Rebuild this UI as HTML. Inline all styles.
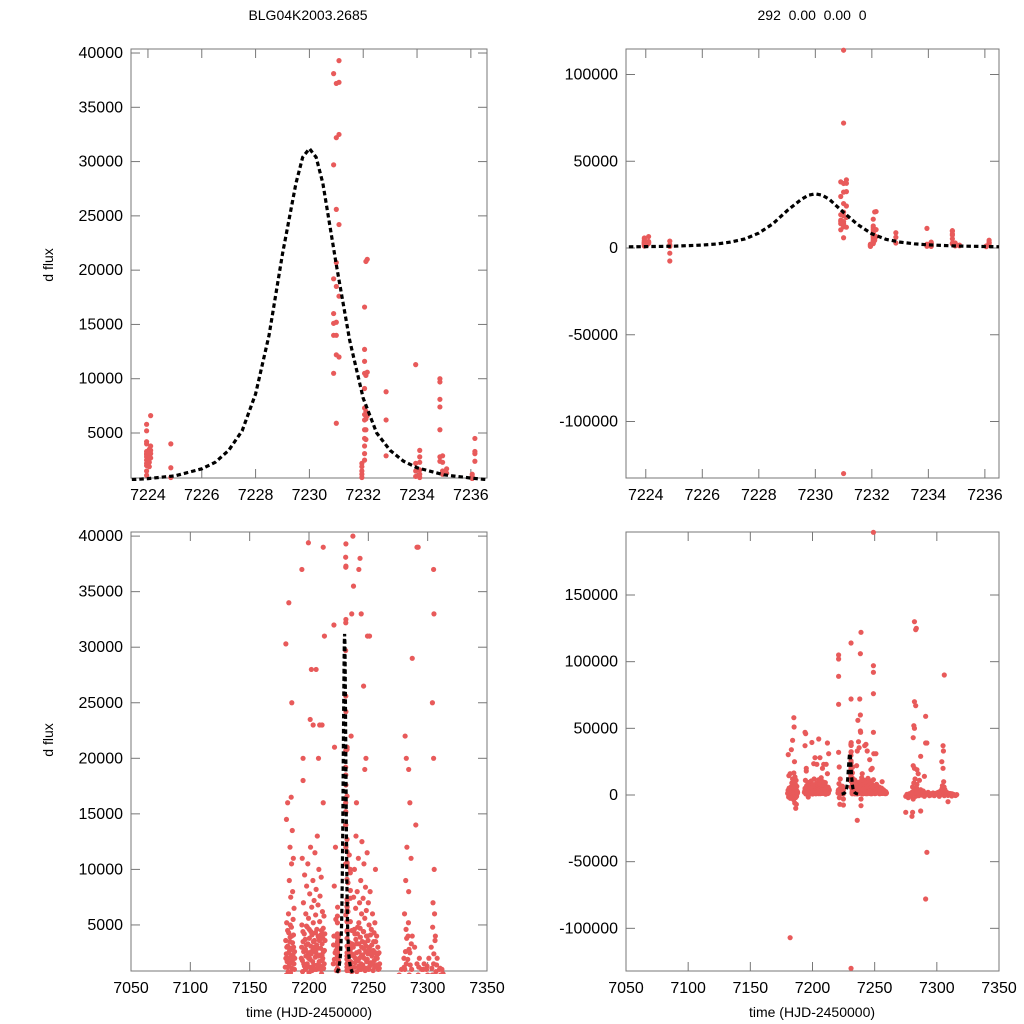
<!DOCTYPE html>
<html><head><meta charset="utf-8"><style>
html,body{margin:0;padding:0;background:#fff;overflow:hidden;width:1024px;height:1024px;}
svg{display:block;font-family:"Liberation Sans",sans-serif;}
</style></head><body>
<svg id="c" width="1024" height="1024" viewBox="0 0 1024 1024">
<text x="308" y="20" font-size="14" text-anchor="middle">BLG04K2003.2685</text>
<text x="812" y="20" font-size="14" text-anchor="middle" xml:space="preserve">292  0.00  0.00  0</text>
<text transform="translate(53,265) rotate(-90)" font-size="14" text-anchor="middle">d flux</text>
<text transform="translate(53,740) rotate(-90)" font-size="14" text-anchor="middle">d flux</text>
<text x="309" y="1017" font-size="14" text-anchor="middle">time (HJD-2450000)</text>
<text x="812" y="1017" font-size="14" text-anchor="middle">time (HJD-2450000)</text>
</svg>
<script>
// model curve (sampled readings)
const modelT=[7223.4,7224,7225,7226,7226.5,7227,7227.5,7228,7228.5,7229,7229.5,7229.75,7230,7230.25,7230.5,7231,7231.5,7232,7232.5,7233,7233.5,7234,7235,7236,7236.6];
const modelF=[700,800,1050,1700,2300,3400,5200,8600,14000,21500,28000,30400,31200,30400,28000,20500,13500,8200,5000,3400,2400,1800,1150,850,700];
// observations near peak
const peakPoints=[[7223.95,5800],[7223.95,5200],[7223.95,4200],[7223.95,4000],[7223.95,3300],[7223.95,3100],[7223.95,3000],[7223.95,2800],[7223.95,2500],[7223.95,2200],[7223.95,2000],[7223.95,1500],[7223.95,1100],
[7224.05,3500],[7224.05,3200],[7224.05,2900],[7224.05,2600],[7224.05,2300],[7224.05,1900],[7224.1,3800],[7224.1,3400],[7224.1,3100],[7224.1,2700],[7224.1,6600],
[7224.85,4000],[7224.85,1800],[7224.85,900],[7224.85,-3000],[7224.85,-7500],
[7230.9,38100],[7230.9,29700],[7230.9,19200],[7230.9,16000],[7230.9,15100],[7230.9,14000],[7230.9,10500],
[7231,37200],[7231,32200],[7231,25600],[7231,20700],[7231,18500],[7231,15200],[7231,14000],[7231,12200],[7231,5900],[7231,72000],[7231,114000],[7231,-130000],
[7231.1,39300],[7231.1,37300],[7231.1,32500],[7231.1,24200],[7231.1,17600],[7231.1,12000],
[7231.95,2200],[7231.95,1900],[7231.95,1500],[7231.95,1200],[7231.95,900],
[7232.05,16600],[7232.05,12700],[7232.05,11600],[7232.05,10500],[7232.05,9100],[7232.05,7300],[7232.05,6700],[7232.05,6200],[7232.05,5300],[7232.05,4500],[7232.05,3800],[7232.05,3100],[7232.05,2500],
[7232.1,20800],[7232.1,10300],[7232.1,7000],[7232.1,6300],[7232.1,5300],[7232.1,4400],[7232.15,21000],[7232.15,10600],[7232.15,6600],
[7232.85,8800],[7232.85,6200],[7232.85,2900],[7233.95,11300],[7233.95,2200],[7233.95,1500],[7233.95,1000],
[7234.1,3400],[7234.1,2800],[7234.1,2300],[7234.1,1600],[7234.1,1200],[7234.1,900],
[7234.85,10000],[7234.85,9700],[7234.85,8100],[7234.85,7400],[7234.85,5300],[7234.85,2800],[7234.85,2400],
[7234.95,2900],[7234.95,2300],[7234.95,1500],[7234.95,1200],[7235.1,1700],[7235.1,1300],
[7236.05,1200],[7236.05,1000],[7236.05,800],[7236.15,4500],[7236.15,3300],[7236.15,3100],[7236.15,2400]];
const seasonA=[[7180.5,2000],[7180.8,-1500],[7181,500],[7181.3,3000],[7181.5,-800],[7181.8,1200],[7182,4500],[7182.2,-2500],[7182.5,800],[7182.7,6000],[7183,2500],[7183.2,-500],[7183.4,9000],[7183.6,1500],[7183.8,3500],[7184,12000],[7184.2,5000],[7184.4,700],[7184.6,7500],[7184.8,-3500],[7185,16500],[7185.1,2200],[7185.3,10500],[7185.5,4000],[7185.7,-6000],[7185.9,13500],[7186,1800],[7186.2,8000],[7186.4,-2000],[7186.6,5500],[7186.8,11000],[7187,3000],[7187.2,-1000],[7187.4,6500],[7187.7,1000],[7188,2000],
[7184,41000],[7185,58000],[7185.2,51000],[7183,34000],[7185.5,25000],[7180.5,30300],[7186.5,-10000],[7187,-7000],[7182,-107000],[7181,14500],[7182,16000]];
const seasonB=[[7193.5,2000],[7194,5000],[7194.3,11000],[7194.6,800],[7195,3500],[7195.3,7000],[7195.6,1500],[7196,4200],[7196.3,9500],[7196.6,-1500],[7197,2800],[7197.3,6000],[7197.6,3200],[7198,8500],[7198.3,1200],[7198.6,4800],[7199,10500],[7199.3,2500],[7199.6,5600],[7200,700],[7200.3,3800],[7200.6,7800],[7201,1900],[7201.3,12000],[7201.6,4400],[7202,2600],[7202.3,6600],[7202.6,900],[7203,3000],[7203.3,9000],[7203.6,5200],[7204,1400],[7204.3,7200],[7204.6,3600],[7205,11500],[7205.3,2100],[7205.6,5900],[7206,8200],[7206.3,1000],[7206.6,4600],[7207,13000],[7207.3,2900],[7207.6,6800],[7208,3900],[7208.3,10000],[7208.6,1700],[7209,5300],[7209.3,7600],[7209.6,2300],[7210,4100],[7210.3,9300],[7210.6,600],[7211,3300],[7211.3,6200],[7211.6,2000],[7212,4700],[7212.3,1100],[7212.6,5800],[7213,2700],[7213.5,3600],
[7194,47000],[7194.5,46000],[7194,37000],[7195,20000],[7195,18000],[7199.5,39400],[7201,23500],[7202,28000],[7203.5,23000],[7205,42000],[7206,28000],[7209,23000],[7211,23000],[7212,39000],[7213,31000],[7212,16000],[7208,20000]];
const seasonC=[[7220.5,1500],[7221,4000],[7221.3,8500],[7221.6,-2000],[7222,2500],[7222.3,12000],[7222.6,5500],[7223,900],[7237.3,3000],[7237.6,7500],[7238,1200],[7238.3,10000],[7238.6,4200],[7239,2000],[7239.3,6500],[7239.6,13000],[7240,3300],[7240.3,800],[7240.6,8000],[7241,4800],[7241.3,1800],[7241.6,11000],[7242,5200],[7242.3,2600],[7242.6,7000],[7243,1000],[7243.3,3900],[7243.6,9000],[7244,2200],[7244.3,6000],[7244.6,12500],[7245,3500],[7245.3,1400],[7245.6,7400],[7246,4400],[7246.3,10500],[7246.6,2000],[7247,5600],[7247.3,900],[7247.6,8400],[7248,3100],[7248.3,6300],[7248.6,1700],[7249,11500],[7249.3,4000],[7249.6,2400],[7250,7000],[7250.3,1000],[7250.6,5000],[7251,3000],[7251.5,8000],[7252,1600],[7252.5,4600],[7253,2200],[7253.5,6000],[7254,900],[7254.5,3500],[7255,1800],[7255.5,5200],[7256,2500],[7256.5,1200],[7257,4000],[7257.5,2000],[7258,3000],[7258.5,1000],[7259,2500],[7259.5,1500],
[7221,105000],[7221,102000],[7221,89000],[7221,68000],[7221,32000],[7221.5,21000],[7222,-7000],[7236,-19000],[7236,33000],[7236.5,56000],[7238,72000],[7238.5,60000],[7238.5,48000],[7238.7,47000],[7239,122000],[7238.5,106000],[7239,-8000],[7239,-3000],[7240,16000],[7242,37000],[7243,38000],[7249,97000],[7249,92000],[7249,76000],[7249,47000],[7249.3,31000],[7249,197000],[7247,19000],[7248,20000],[7256,10000],[7237,40000],[7237.5,35500],[7244,33000],[7251,31000],[7246,26500],[7235.5,22000]];
const seasonD=[[7275,-1000],[7276,500],[7277,-2000],[7278,1000],[7279,-500],[7280,2000],[7280.5,6000],[7281,-3000],[7281.5,9000],[7282,1500],[7282.5,12000],[7283,-1000],[7283.5,4000],[7284,8000],[7284.5,500],[7285,2500],[7285.5,-500],[7286,11000],[7286.5,1000],[7287,4000],[7288,0],[7289,3000],[7290,-1000],[7291,1500],[7292,500],[7293,2000],[7294,-500],[7295,1000],[7296,0],[7297,1500],[7298,-500],[7299,1000],[7300,500],[7301,2000],[7302,-1000],[7303,3000],[7304,500],[7304.5,7000],[7305,1500],[7305.5,10000],[7306,-500],[7306.5,4000],[7307,800],[7308,2000],[7309,-300],[7310,1000],[7311,500],[7312,-800],[7313,600],[7314,200],[7315,-400],[7316,300],
[7282,130000],[7283,124000],[7283.5,125000],[7282,70000],[7283,67000],[7281.5,52000],[7282,50000],[7281,43000],[7281,22000],[7282,20000],[7284,19000],[7287,29000],[7291,59000],[7291,39000],[7292,-43000],[7291,-78000],[7306,90000],[7305,37000],[7305.3,33000],[7304,25000],[7275,-13000],[7280,-16000],[7280.5,-13000],[7287,-12000],[7309,-5000],[7292,39000],[7305,20000],[7285,16000],[7290,14000]];
// extra low-flux observations forming the dense band
const denseBand=[[7180,1200],[7180.4,3600],[7180.9,2400],[7181.2,5200],[7181.6,1700],[7182.1,3100],[7182.4,2000],[7182.9,4300],[7183.3,1300],[7183.7,2700],[7184.1,3900],[7184.5,1600],[7184.9,2900],[7185.2,4800],[7185.6,1100],[7186.1,3400],[7186.5,2300],[7186.9,4100],[7187.3,1500],[7187.8,2600],
[7193.8,3000],[7194.4,1800],[7194.9,4400],[7195.5,2600],[7196.1,1300],[7196.8,3700],[7197.4,2200],[7197.9,4900],[7198.5,1500],[7199.1,3300],[7199.7,2000],[7200.2,4600],[7200.8,1200],[7201.4,3100],[7201.9,2400],[7202.5,4100],[7203.1,1700],[7203.7,3500],[7204.2,2800],[7204.8,1000],[7205.4,4300],[7205.9,2500],[7206.5,3200],[7207.1,1400],[7207.7,4000],[7208.2,2200],[7208.8,3600],[7209.4,1300],[7209.9,2900],[7210.5,4500],[7211.1,1800],[7211.7,3800],[7212.2,2600],[7212.8,1500],[7213.3,4200],
[7197,1000],[7203,1100],[7208,1200],[7210,1000],[7200,2100],[7205,3000],[7196,2700],[7211,2300],
[7220.7,3200],[7221.4,1900],[7222.2,4000],[7222.8,2700],[7237.5,2200],[7238.2,4600],[7238.8,1600],[7239.5,3700],[7240.1,2500],[7240.8,4200],[7241.4,1200],[7241.9,3300],[7242.5,2000],[7243.1,4700],[7243.8,1500],[7244.4,3000],[7245.1,2300],[7245.8,4400],[7246.4,1100],[7247.1,3400],[7247.8,2600],[7248.4,4000],[7249.1,1900],[7249.8,3600],[7250.4,2800],[7251.2,1300],[7251.8,4100],[7252.3,2500],[7252.9,3200],[7253.6,1500],[7254.2,2700],[7254.8,4300],[7255.3,1200],[7256.2,3500],[7256.8,2100],[7257.3,1400],[7258.2,2400],[7259.2,1100],[7244,1000],[7248,1100],[7242,1300],[7246,2900],
[7280.2,1200],[7281.3,2600],[7282.3,3800],[7283.2,1900],[7283.8,5200],[7284.3,2800],[7285.3,1400],[7286.2,3300],[7281.8,4600],[7280.7,1000],[7292.5,1200],[7296.5,1000],[7299.5,1300],[7303.5,1100],[7305.2,2400],[7306.2,3600],[7307.5,1400],[7304.2,4800],[7305.8,6000],[7310.5,1100],[7312,1000]];
const xTicksTop=[7224,7226,7228,7230,7232,7234,7236];
const xTicksBottom=[7050,7100,7150,7200,7250,7300,7350];
const yTicksFlux=[5000,10000,15000,20000,25000,30000,35000,40000];
const yTicksWideTop=[-100000,-50000,0,50000,100000];
const yTicksWideBottom=[-100000,-50000,0,50000,100000,150000];

const NS='http://www.w3.org/2000/svg';
const svg=document.getElementById('c');
const allPoints=peakPoints.concat(seasonA,seasonB,seasonC,seasonD,denseBand);
function mk(tag,attrs,parent){const e=document.createElementNS(NS,tag);for(const k in attrs)e.setAttribute(k,attrs[k]);(parent||svg).appendChild(e);return e;}

function panel(p){
  const g=mk('g',{});
  
  
  const sx=v=>p.x0+(v-p.xmin)/(p.xmax-p.xmin)*(p.x1-p.x0);
  const sy=v=>p.y1-(v-p.ymin)/(p.ymax-p.ymin)*(p.y1-p.y0);
  const id='clip'+p.name;
  const cp=mk('clipPath',{id:id},g);mk('rect',{x:p.x0,y:p.y0-3,width:p.x1-p.x0,height:p.y1-p.y0+6},cp);
  const frame=mk('rect',{x:p.x0,y:p.y0,width:p.x1-p.x0,height:p.y1-p.y0,fill:'none',stroke:'#777','stroke-width':1},g);
  
  
  p.xt.forEach(t=>{const x=sx(t);
    mk('line',{x1:x,x2:x,y1:p.y1,y2:p.y1-9,stroke:'#777'},g);
    mk('line',{x1:x,x2:x,y1:p.y0,y2:p.y0+9,stroke:'#777'},g);
    const l=mk('text',{x:x,y:p.y1+22,'font-size':16,'text-anchor':'middle'},g);l.textContent=t;
    
    });
  p.yt.forEach(t=>{const y=sy(t);
    mk('line',{x1:p.x0,x2:p.x0+9,y1:y,y2:y,stroke:'#777'},g);
    mk('line',{x1:p.x1,x2:p.x1-9,y1:y,y2:y,stroke:'#777'},g);
    const l=mk('text',{x:p.x0-8,y:y+5,'font-size':16,'text-anchor':'end'},g);l.textContent=t;
    
    });
  const dg=mk('g',{'clip-path':'url(#'+id+')'},g);
  p.pts.forEach(d=>{
    if(d[0]<p.xmin||d[0]>p.xmax)return;
    const c=mk('circle',{cx:sx(d[0]),cy:sy(d[1]),r:2.6,fill:'#e85a5a'},dg);
    
    
  });
  let dstr='';modelT.forEach((t,i)=>{dstr+=(i?'L':'M')+sx(t).toFixed(2)+','+sy(modelF[i]).toFixed(2);});
  const m=mk('path',{d:dstr,fill:'none',stroke:'#000','stroke-width':3.2,'stroke-dasharray':'4.5,3'},dg);
  
  
}
panel({name:'panel-zoom-flux',x0:131,x1:487,y0:49,y1:478,xmin:7223.37,xmax:7236.6,ymin:855,ymax:40370,xt:xTicksTop,yt:yTicksFlux,pts:peakPoints});
panel({name:'panel-zoom-wide',x0:626,x1:999,y0:49,y1:478,xmin:7223.3,xmax:7236.5,ymin:-132560,ymax:114700,xt:xTicksTop,yt:yTicksWideTop,pts:peakPoints});
panel({name:'panel-full-flux',x0:131,x1:487,y0:532,y1:971,xmin:7050,xmax:7350,ymin:855,ymax:40370,xt:xTicksBottom,yt:yTicksFlux,pts:allPoints});
panel({name:'panel-full-wide',x0:626,x1:999,y0:532,y1:971,xmin:7050,xmax:7350,ymin:-132000,ymax:197250,xt:xTicksBottom,yt:yTicksWideBottom,pts:allPoints});
</script>
</body></html>
